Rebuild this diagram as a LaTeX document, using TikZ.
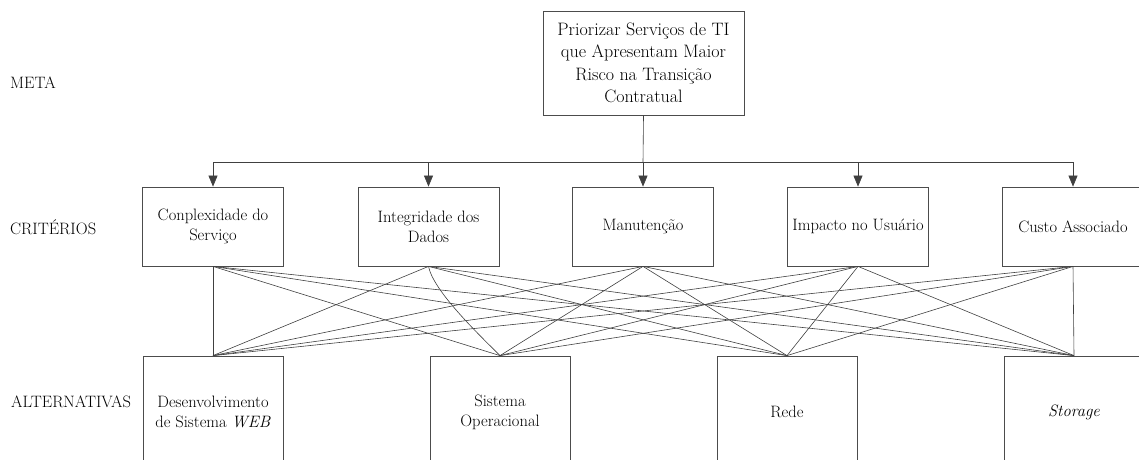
\documentclass[tikz,border=0pt]{standalone}
\usepackage{fontspec}
\usetikzlibrary{arrows.meta,calc}
\begin{document}
\begin{tikzpicture}[x=1pt,y=-1pt,
  box/.style={draw=black!70, line width=0.8pt, align=center, inner sep=0pt, font=\fontsize{16.5}{20}\selectfont},
  crit/.style={box, minimum width=141pt, minimum height=79pt},
  alt/.style={box, minimum width=140pt, minimum height=112pt},
  link/.style={draw=black!75, line width=0.6pt},
  arr/.style={link, -{Triangle[length=11pt,width=9pt]}},
  lab/.style={anchor=base west, inner sep=0pt, font=\fontsize{16.5}{20}\selectfont}]
\useasboundingbox (0,0) rectangle (1139,459);
\clip (0,0) rectangle (1139,459);

\node[box, minimum width=201pt, minimum height=104pt, font=\fontsize{18}{22.5}\selectfont] (goal) at (643.5,63)
  {Priorizar Serviços de TI\\que Apresentam Maior\\Risco na Transição\\Contratual};

\node[crit] (c1) at (213,226.5) {Conplexidade do\\Serviço};
\node[crit] (c2) at (428.5,226.5) {Integridade dos\\Dados};
\node[crit] (c3) at (643,226.5) {Manutenção};
\node[crit] (c4) at (858,226.5) {Impacto no Usuário};
\node[crit] (c5) at (1073,226.5) {Custo Associado};

\node[alt] (a1) at (213,412) {Desenvolvimento\\de Sistema \textit{WEB}};
\node[alt] (a2) at (500,412) {Sistema\\Operacional};
\node[alt] (a3) at (787,412) {Rede};
\node[alt] (a4) at (1074,412) {\textit{Storage}};

\node[lab] (lmeta) at (10,88) {META};
\node[lab] (lcrit) at (10,234) {CRITÉRIOS};
\node[lab] (lalt) at (11,407.5) {ALTERNATIVAS};

\coordinate (bar) at (643,162);
\draw[link] (c1.north |- bar) -- (c5.north |- bar);
\draw[link] (goal.south) -- (bar);
\foreach \i in {1,...,5} \draw[arr] (c\i.north |- bar) -- (c\i.north);

\foreach \i in {1,...,5}{\foreach \j in {1,...,4}{%
  \ifnum\i\j=22\relax\else\draw[link] (c\i.south) -- (a\j.north);\fi}}
\draw[link] (c2.south) .. controls +(5,25) and +(-20,-20) .. (a2.north);
\end{tikzpicture}
\end{document}
